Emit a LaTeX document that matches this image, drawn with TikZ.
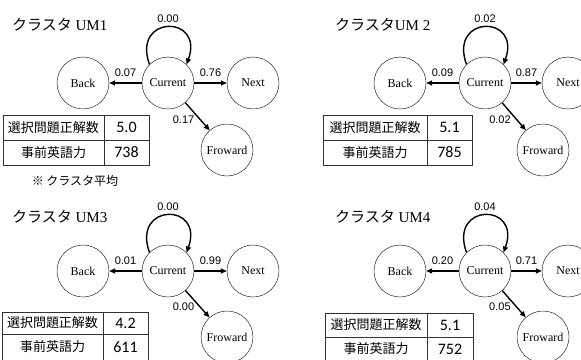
\documentclass[tikz,border=0pt]{standalone}
\usetikzlibrary{arrows.meta}
\usepackage{xcolor}
\usepackage{fontspec}
\setmainfont{Liberation Serif}
\newfontfamily\jpfont{Noto Sans CJK JP}
\newfontfamily\numfont{Liberation Sans}
\newfontfamily\calfont{Carlito}

\begin{document}
\begin{tikzpicture}[
x=1pt, y=-1pt,
statenode/.style={
	circle, draw=black, thin,
	minimum size=52pt, inner sep=0pt,
	font=\fontsize{12}{13}\selectfont,
},
link/.style={draw, line width=1.4pt, -{Triangle[length=6pt,width=5pt]}},
prob/.style={font=\numfont\fontsize{11}{12}\selectfont, inner sep=1pt},
heading/.style={anchor=west, inner sep=0pt, font=\fontsize{15}{17}\selectfont},
headcell/.style={draw=black!80, minimum width=#1, minimum height=25pt, inner sep=0pt,
	font=\jpfont\fontsize{13}{15}\selectfont},
valcell/.style={draw=black!80, minimum width=45pt, minimum height=25pt, inner sep=0pt,
	font=\calfont\fontsize{16}{18}\selectfont},
]
\useasboundingbox (0,0) rectangle (581,359);
\clip (0,0) rectangle (581,359);

% cluster UM1
\node[heading] (ttl1) at (12,25) {{\jpfont クラスタ} UM1};
\node[statenode] (cur1) at (168,83) {Current};
\node[statenode] (back1) at (83,83) {Back};
\node[statenode] (next1) at (253,83) {Next};
\node[statenode] (fwd1) at (227,150) {Froward};
\draw[link] (cur1.135) .. controls +(-18,-50) and +(18,-50) .. (cur1.45)
    node[prob, midway, above=3pt] {0.00};
\draw[link] (cur1) -- (back1) node[prob, midway, above=5pt] {0.07};
\draw[link] (cur1) -- (next1) node[prob, midway, above=5pt] {0.76};
\draw[link] (cur1) -- (fwd1) node[prob, pos=.6, left=4pt] {0.17};
\node[headcell=101pt] (hd1a) at (53.5,127.5) {選択問題正解数};
\node[headcell=101pt] (hd1b) at (53.5,152.5) {事前英語力};
\node[valcell] (val1a) at (126.5,127.5) {5.0};
\node[valcell] (val1b) at (126.5,152.5) {738};
\node[font=\jpfont\fontsize{12}{14}\selectfont] (note1) at (75,181) {※ クラスタ平均};

% cluster UM2
\node[heading] (ttl2) at (335,25) {{\jpfont クラスタ}UM 2};
\node[statenode] (cur2) at (485,83) {Current};
\node[statenode] (back2) at (400,83) {Back};
\node[statenode] (next2) at (568,83) {Next};
\node[statenode] (fwd2) at (543,150) {Froward};
\draw[link] (cur2.135) .. controls +(-18,-50) and +(18,-50) .. (cur2.45)
    node[prob, midway, above=3pt] {0.02};
\draw[link] (cur2) -- (back2) node[prob, midway, above=5pt] {0.09};
\draw[link] (cur2) -- (next2) node[prob, midway, above=5pt] {0.87};
\draw[link] (cur2) -- (fwd2) node[prob, pos=.6, left=4pt] {0.02};
\node[headcell=104pt] (hd2a) at (375,127.5) {選択問題正解数};
\node[headcell=104pt] (hd2b) at (375,152.5) {事前英語力};
\node[valcell] (val2a) at (449.5,127.5) {5.1};
\node[valcell] (val2b) at (449.5,152.5) {785};

% cluster UM3
\node[heading] (ttl3) at (12,217) {{\jpfont クラスタ} UM3};
\node[statenode] (cur3) at (168,271) {Current};
\node[statenode] (back3) at (83,271) {Back};
\node[statenode] (next3) at (253,271) {Next};
\node[statenode] (fwd3) at (227,337) {Froward};
\draw[link] (cur3.135) .. controls +(-18,-50) and +(18,-50) .. (cur3.45)
    node[prob, midway, above=3pt] {0.00};
\draw[link] (cur3) -- (back3) node[prob, midway, above=5pt] {0.01};
\draw[link] (cur3) -- (next3) node[prob, midway, above=5pt] {0.99};
\draw[link] (cur3) -- (fwd3) node[prob, pos=.6, left=4pt] {0.00};
\node[headcell=101pt, minimum height=22pt] (hd3a) at (52.5,323) {選択問題正解数};
\node[headcell=101pt, minimum height=26pt] (hd3b) at (52.5,347) {事前英語力};
\node[valcell, minimum height=22pt] (val3a) at (125.5,323) {4.2};
\node[valcell, minimum height=26pt] (val3b) at (125.5,347) {611};

% cluster UM4
\node[heading] (ttl4) at (335,217) {{\jpfont クラスタ} UM4};
\node[statenode] (cur4) at (485,271) {Current};
\node[statenode] (back4) at (400,271) {Back};
\node[statenode] (next4) at (568,271) {Next};
\node[statenode] (fwd4) at (543,337) {Froward};
\draw[link] (cur4.135) .. controls +(-18,-50) and +(18,-50) .. (cur4.45)
    node[prob, midway, above=3pt] {0.04};
\draw[link] (cur4) -- (back4) node[prob, midway, above=5pt] {0.20};
\draw[link] (cur4) -- (next4) node[prob, midway, above=5pt] {0.71};
\draw[link] (cur4) -- (fwd4) node[prob, pos=.6, left=4pt] {0.05};
\node[headcell=102pt, minimum height=24pt] (hd4a) at (376,325) {選択問題正解数};
\node[headcell=102pt, minimum height=24pt] (hd4b) at (376,349) {事前英語力};
\node[valcell, minimum height=24pt, minimum width=46pt] (val4a) at (450,325) {5.1};
\node[valcell, minimum height=24pt, minimum width=46pt] (val4b) at (450,349) {752};
\end{tikzpicture}
\end{document}
